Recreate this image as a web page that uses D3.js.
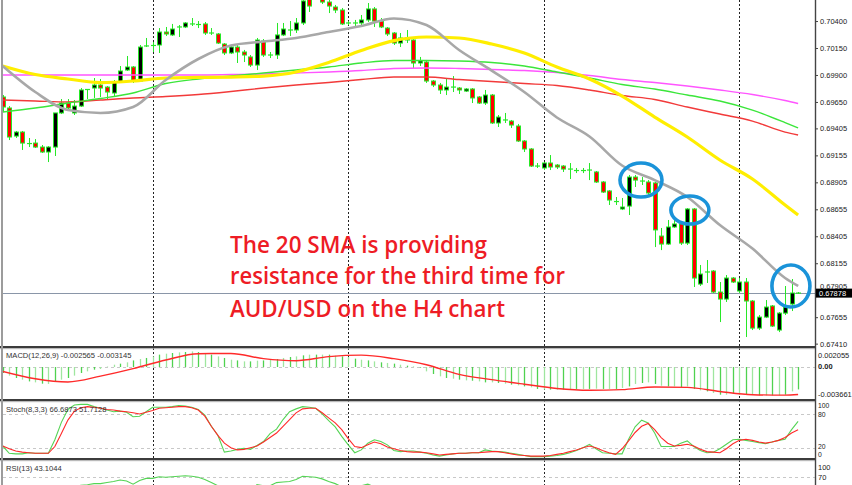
<!DOCTYPE html>
<html><head><meta charset="utf-8">
<script src="https://cdn.jsdelivr.net/npm/d3@7"></script>
<style>html,body{margin:0;padding:0;background:#fff;overflow:hidden}</style>
</head><body><svg id="c" width="852" height="485"></svg>
<script>
// ---------- DATA (AUD/USD H4) ----------
const opens=[0.69696,0.69594,0.69334,0.69371,0.69269,0.69269,0.69232,0.69186,0.69232,0.69548,
0.69640,0.69548,0.69612,0.69770,0.69779,0.69807,0.69788,0.69733,0.69835,0.69946,
0.69974,0.69844,0.70169,0.70169,0.70178,0.70298,0.70271,0.70345,0.70345,0.70373,
0.70373,0.70373,0.70289,0.70280,0.70187,0.70104,0.70159,0.70113,0.70067,0.69992,
0.70215,0.70085,0.70085,0.70271,0.70317,0.70317,0.70382,0.70614,0.70706,0.70632,
0.70576,0.70530,0.70502,0.70382,0.70382,0.70382,0.70410,0.70512,0.70400,0.70335,
0.70289,0.70196,0.70243,0.70224,0.70011,0.70020,0.69844,0.69807,0.69761,0.69788,
0.69779,0.69751,0.69770,0.69696,0.69640,0.69714,0.69455,0.69483,0.69473,0.69427,
0.69288,0.69214,0.69056,0.69038,0.69084,0.69065,0.69056,0.69028,0.69019,0.69010,
0.69019,0.69001,0.68908,0.68825,0.68732,0.68658,0.68685,0.68954,0.68917,0.68908,
0.68899,0.68407,0.68333,0.68491,0.68519,0.68342,0.68658,0.67962,0.68074,0.68083,
0.67888,0.67823,0.68018,0.67898,0.67981,0.67805,0.67554,0.67656,0.67759,0.67536,
0.67693,0.67777,0.67879];
const highs=[0.69714,0.69612,0.69381,0.69381,0.69316,0.69306,0.69251,0.69241,0.69548,0.69677,
0.69677,0.69668,0.69779,0.69770,0.69872,0.69863,0.69798,0.69853,0.69983,0.70076,
0.69983,0.70178,0.70243,0.70206,0.70335,0.70345,0.70373,0.70363,0.70391,0.70428,
0.70400,0.70391,0.70335,0.70289,0.70196,0.70169,0.70178,0.70132,0.70085,0.70243,
0.70233,0.70113,0.70382,0.70382,0.70400,0.70428,0.70623,0.70651,0.70762,0.70669,
0.70595,0.70549,0.70521,0.70400,0.70410,0.70456,0.70567,0.70530,0.70428,0.70345,
0.70298,0.70289,0.70317,0.70233,0.70067,0.70039,0.69853,0.69826,0.69872,0.69890,
0.69788,0.69779,0.69779,0.69705,0.69761,0.69724,0.69529,0.69548,0.69483,0.69446,
0.69297,0.69223,0.69084,0.69093,0.69158,0.69075,0.69065,0.69084,0.69038,0.69038,
0.69084,0.69010,0.68917,0.68834,0.68769,0.68760,0.68973,0.68973,0.68954,0.68926,
0.68908,0.68482,0.68556,0.68583,0.68537,0.68667,0.68667,0.68139,0.68185,0.68092,
0.67981,0.68046,0.68027,0.68018,0.68018,0.67814,0.67675,0.67814,0.67768,0.67703,
0.67944,0.68009,0.67888];
const lows=[0.69557,0.69297,0.69316,0.69205,0.69232,0.69223,0.69177,0.69093,0.69149,0.69538,
0.69575,0.69529,0.69603,0.69677,0.69687,0.69696,0.69668,0.69696,0.69826,0.69937,
0.69826,0.69835,0.70159,0.70113,0.70104,0.70261,0.70261,0.70252,0.70335,0.70354,
0.70335,0.70271,0.70271,0.70187,0.70085,0.70094,0.70011,0.70020,0.69974,0.69946,
0.70067,0.70057,0.70048,0.70261,0.70261,0.70289,0.70363,0.70484,0.70632,0.70558,
0.70474,0.70474,0.70363,0.70363,0.70345,0.70345,0.70391,0.70345,0.70335,0.70261,
0.70178,0.70159,0.70196,0.69965,0.69983,0.69826,0.69788,0.69724,0.69714,0.69742,
0.69724,0.69742,0.69640,0.69631,0.69622,0.69446,0.69418,0.69455,0.69409,0.69279,
0.69186,0.69047,0.69038,0.69019,0.69019,0.69028,0.69001,0.68936,0.68991,0.68991,
0.68926,0.68899,0.68806,0.68695,0.68695,0.68648,0.68602,0.68862,0.68880,0.68787,
0.68305,0.68277,0.68324,0.68482,0.68324,0.68324,0.67935,0.67944,0.67972,0.67879,
0.67610,0.67796,0.67972,0.67879,0.67471,0.67536,0.67536,0.67647,0.67564,0.67517,
0.67675,0.67712,0.67870];
const closes=[0.69603,0.69325,0.69371,0.69269,0.69260,0.69232,0.69186,0.69232,0.69548,0.69640,
0.69594,0.69612,0.69761,0.69761,0.69807,0.69779,0.69742,0.69835,0.69937,0.69974,
0.69844,0.70159,0.70169,0.70178,0.70298,0.70280,0.70326,0.70345,0.70382,0.70373,
0.70363,0.70289,0.70289,0.70196,0.70104,0.70159,0.70113,0.70085,0.69992,0.70224,
0.70085,0.70085,0.70271,0.70326,0.70317,0.70382,0.70586,0.70539,0.70651,0.70576,
0.70539,0.70502,0.70373,0.70382,0.70382,0.70410,0.70512,0.70400,0.70345,0.70280,
0.70196,0.70243,0.70224,0.70011,0.70030,0.69844,0.69807,0.69761,0.69788,0.69788,
0.69761,0.69770,0.69687,0.69640,0.69714,0.69455,0.69510,0.69483,0.69436,0.69288,
0.69214,0.69056,0.69056,0.69084,0.69047,0.69047,0.69028,0.69028,0.69010,0.69019,
0.69019,0.68908,0.68815,0.68741,0.68722,0.68676,0.68954,0.68926,0.68917,0.68806,
0.68464,0.68333,0.68491,0.68519,0.68342,0.68658,0.68018,0.68055,0.68074,0.67888,
0.67823,0.68018,0.67981,0.67981,0.67805,0.67554,0.67656,0.67749,0.67573,0.67693,
0.67749,0.67879,0.67878];

// moving averages, read at these candle indices
const maIdx=[0,5,10,15,20,25,30,35,40,45,50,55,60,65,70,75,80,85,90,95,100,105,110,115,120,122];
const sma20=[0.69983,0.69742,0.69575,0.69548,0.69603,0.69853,0.70048,0.70173,0.70210,0.70243,0.70298,0.70354,0.70424,0.70363,0.70132,0.69941,0.69742,0.69506,0.69330,0.69061,0.68926,0.68769,0.68509,0.68291,0.68018,0.67944];
const sma50=[0.69983,0.69904,0.69863,0.69830,0.69844,0.69872,0.69877,0.69881,0.69890,0.69928,0.70016,0.70127,0.70219,0.70252,0.70243,0.70187,0.70104,0.69974,0.69863,0.69705,0.69510,0.69325,0.69112,0.68936,0.68695,0.68602];
const ma100=[0.69557,0.69594,0.69640,0.69682,0.69733,0.69821,0.69863,0.69890,0.69918,0.69946,0.69974,0.70011,0.70034,0.70034,0.70030,0.70016,0.69983,0.69928,0.69872,0.69812,0.69770,0.69714,0.69659,0.69575,0.69459,0.69409];
const ma200=[0.69668,0.69659,0.69650,0.69668,0.69687,0.69700,0.69719,0.69747,0.69779,0.69807,0.69830,0.69858,0.69881,0.69881,0.69858,0.69840,0.69821,0.69802,0.69761,0.69710,0.69673,0.69603,0.69538,0.69473,0.69371,0.69344];
const maPink=[0.69900,0.69900,0.69900,0.69900,0.69900,0.69900,0.69900,0.69904,0.69909,0.69918,0.69928,0.69941,0.69960,0.69965,0.69960,0.69951,0.69941,0.69923,0.69895,0.69858,0.69830,0.69798,0.69761,0.69719,0.69663,0.69635];

const priceTicks=[0.70400,0.70150,0.69900,0.69650,0.69405,0.69155,0.68905,0.68655,0.68405,0.68155,0.67905,0.67655,0.67410];
const lastPrice=0.67878;
const separators=[23,53,83,113];

const macdHist=[-0.00069,-0.00099,-0.00126,-0.00145,-0.00165,-0.00176,-0.00191,-0.00194,-0.00171,-0.00145,
-0.00126,-0.00099,-0.00069,-0.00050,-0.00031,-0.00023,0.00003,0.00026,0.00038,0.00053,
0.00075,0.00091,0.00103,0.00121,0.00141,0.00152,0.00160,0.00167,0.00171,0.00178,
0.00171,0.00160,0.00141,0.00121,0.00103,0.00083,0.00075,0.00064,0.00064,0.00072,
0.00075,0.00083,0.00091,0.00103,0.00114,0.00121,0.00133,0.00141,0.00141,0.00141,
0.00141,0.00129,0.00121,0.00114,0.00095,0.00083,0.00075,0.00064,0.00053,0.00046,
0.00038,0.00026,0.00015,0.00007,-0.00008,-0.00050,-0.00080,-0.00107,-0.00126,-0.00134,
-0.00145,-0.00153,-0.00157,-0.00165,-0.00176,-0.00176,-0.00183,-0.00191,-0.00202,-0.00210,
-0.00222,-0.00233,-0.00251,-0.00259,-0.00259,-0.00259,-0.00259,-0.00251,-0.00251,-0.00251,
-0.00251,-0.00248,-0.00251,-0.00251,-0.00251,-0.00240,-0.00222,-0.00194,-0.00183,-0.00176,
-0.00194,-0.00214,-0.00222,-0.00222,-0.00229,-0.00222,-0.00251,-0.00267,-0.00279,-0.00297,
-0.00317,-0.00317,-0.00309,-0.00317,-0.00309,-0.00317,-0.00325,-0.00325,-0.00325,-0.00325,
-0.00317,-0.00279,-0.002565];
const macdSignal=[-0.00050,-0.00134,-0.00171,-0.00105,-0.00019,0.00080,0.00152,0.00154,0.00095,0.00072,0.00118,0.00135,0.00095,0.00026,-0.00085,-0.00145,-0.00197,-0.00246,-0.00266,-0.00259,-0.00229,-0.00233,-0.00280,-0.00317,-0.00322,-0.003145];

const stochK=[23,10,9,9,11,10,10,10,34,65,88,96,97,97,93,90,87,84,85,83,
75,76,84,92,92,92,93,95,94,92,88,78,58,42,12,14,17,19,17,24,
31,45,53,70,84,89,93,92,90,80,68,57,40,25,11,16,28,34,31,25,
15,13,14,14,12,10,7,5,7,9,10,10,11,11,16,14,13,12,10,8,
6,4,4,4,5,6,8,11,15,20,26,18,11,10,9,9,35,57,69,64,
46,22,22,22,28,32,22,15,11,12,18,26,34,35,33,31,29,27,30,33,
35,52,66.6873];
const stochD=[23,18,14,12,11,10,10,10,22,45,69,85,91,93,92,90,88,87,85,84,
82,80,83,86,90,91,92,93,93,91,87,76,58,42,28,20,16,17,20,23,
30,38,46,58,70,82,89,90,90,82,73,64,52,36,22,20,25,30,27,21,
18,15,13,12,12,11,9,7,8,9,10,10,11,11,12,13,13,11,9,7,
6,5,5,5,6,8,10,13,16,20,23,20,15,11,8,18,32,47,58,63,
52,38,28,23,24,26,23,17,13,12,11,18,27,33,35,33,30,28,30,33,
38,46,51.7128];
const rsi=[38,33,35,31,32,30,29,30,45,50,48,51,55,56,58,58,60,62,65,63,
57,64,68,68,71,70,71,72,73,72,70,66,60,54,50,51,50,48,44,56,
54,54,60,61,62,66,72,71,70,67,62,58,52,50,48,54,57,52,49,46,
43,45,43,36,37,30,28,27,29,29,28,28,26,25,29,23,26,26,25,22,
20,17,18,21,20,20,19,20,19,21,21,19,16,17,20,22,37,38,38,34,
25,23,28,30,27,40,24,27,28,25,24,32,31,33,28,24,27,31,29,32,
35,41,43.1044];

const noteLines=["The 20 SMA is providing","resistance for the third time for","AUD/USD on the H4 chart"];
// blue rings: centre as [candle index, price]
const ringCenters=[[97.9,0.68926],[105.4,0.68648],[120.9,0.67944]];

// ---------- DRAW ----------
const svg=d3.select("#c");
const AX=815;
const x=d3.scaleLinear().domain([0,122]).range([2.7,798.1]);
const y=d3.scaleLinear().domain([0.67388,0.70595]).range([346,0]);
const ym=d3.scaleLinear().domain([-0.003661,0.002055]).range([399,349]);
const ys=d3.scaleLinear().domain([0,100]).range([458.9,402.7]);
const yr=d3.scaleLinear().domain([0,100]).range([514.2,461.5]);
const font="'Liberation Sans', Arial, sans-serif";

svg.append("rect").attr("width",852).attr("height",485).attr("fill","#fff");
const defs=svg.append("defs");
function clip(id,y0,y1){defs.append("clipPath").attr("id",id).append("rect").attr("x",3).attr("y",y0).attr("width",AX-3).attr("height",y1-y0);}
clip("cMain",0,346);clip("cMacd",349,399);clip("cSto",402,458);clip("cRsi",461,485);

// period separators
separators.forEach(i=>{
  svg.append("line").attr("x1",Math.round(x(i))+0.5).attr("x2",Math.round(x(i))+0.5)
    .attr("y1",0).attr("y2",485).attr("stroke","#222").attr("stroke-dasharray","2,2").attr("stroke-width",1);
});

// main panel
const gm=svg.append("g").attr("clip-path","url(#cMain)");
gm.append("line").attr("x1",0).attr("x2",AX).attr("y1",Math.round(y(lastPrice))+0.5).attr("y2",Math.round(y(lastPrice))+0.5)
  .attr("stroke","#8a96a8").attr("stroke-width",1);

const GREEN="#27e827";
const idx=d3.range(opens.length);
gm.selectAll("line.wick").data(idx).join("line").attr("class","wick")
  .attr("x1",i=>Math.round(x(i))+0.5).attr("x2",i=>Math.round(x(i))+0.5)
  .attr("y1",i=>y(highs[i])).attr("y2",i=>y(lows[i])).attr("stroke",GREEN).attr("stroke-width",1);
idx.forEach(i=>{
  const cx=Math.round(x(i))+0.5;
  const yo=y(opens[i]),yc=y(closes[i]);
  const top=Math.min(yo,yc),h=Math.abs(yo-yc);
  if(h<1.6){
    gm.append("line").attr("x1",cx-2.5).attr("x2",cx+2.5).attr("y1",(yo+yc)/2).attr("y2",(yo+yc)/2)
      .attr("stroke",GREEN).attr("stroke-width",1.2);
  } else {
    gm.append("rect").attr("x",cx-2).attr("width",4).attr("y",top).attr("height",h)
      .attr("fill",closes[i]>opens[i]?"#000":"#ff0000").attr("stroke",GREEN).attr("stroke-width",1);
  }
});

const maLine=d3.line().x((d,k)=>x(maIdx[k])).y(d=>y(d)).curve(d3.curveMonotoneX);
[[maPink,"#ff55ff",1.4],[ma200,"#f23a3a",1.4],[ma100,"#3be63b",1.4],[sma50,"#ffee00",3.2],[sma20,"#a8a8a8",2.6]]
 .forEach(([d,c,w])=>gm.append("path").datum(d).attr("d",maLine).attr("fill","none").attr("stroke",c).attr("stroke-width",w));

// blue rings
const ringR=[[21,17],[19,14],[19,21]];
ringCenters.forEach(([ci,p],k)=>{
  gm.append("ellipse").attr("cx",x(ci)).attr("cy",y(p))
    .attr("rx",ringR[k][0]).attr("ry",ringR[k][1]).attr("fill","none").attr("stroke","#1a93d9").attr("stroke-width",3.6);
});

// annotation text
const noteY=[252.7,284.3,316.7], noteW=[257,335,275];
noteLines.forEach((t,k)=>{
  svg.append("text").attr("x",230).attr("y",noteY[k]).text(t)
    .attr("font-family","'Open Sans', sans-serif").attr("font-weight",600).attr("font-size",23)
    .attr("fill","#ee1c25").attr("textLength",noteW[k]).attr("lengthAdjust","spacingAndGlyphs");
});

// MACD panel
const gmac=svg.append("g").attr("clip-path","url(#cMacd)");
gmac.append("line").attr("x1",3).attr("x2",AX).attr("y1",Math.round(ym(0))+0.5).attr("y2",Math.round(ym(0))+0.5)
  .attr("stroke","#c8c8c8").attr("stroke-dasharray","3,3");
gmac.selectAll("line.h").data(idx).join("line").attr("class","h")
  .attr("x1",i=>Math.round(x(i))+0.5).attr("x2",i=>Math.round(x(i))+0.5)
  .attr("y1",ym(0)).attr("y2",i=>ym(macdHist[i]))
  .attr("stroke",i=>i%2?"#9fe69f":"#4fd24f").attr("stroke-width",1.3);
gmac.append("path").datum(macdSignal).attr("d",d3.line().x((d,k)=>x(maIdx[k])).y(d=>ym(d)).curve(d3.curveMonotoneX))
  .attr("fill","none").attr("stroke","#ff2a2a").attr("stroke-width",1.4);

// Stoch panel
const gst=svg.append("g").attr("clip-path","url(#cSto)");
[80,20].forEach(v=>gst.append("line").attr("x1",3).attr("x2",AX).attr("y1",Math.round(ys(v))+0.5).attr("y2",Math.round(ys(v))+0.5)
  .attr("stroke","#c8c8c8").attr("stroke-dasharray","3,3"));
const sl=d3.line().x((d,i)=>x(i)).y(d=>ys(d));
gst.append("path").datum(stochK).attr("d",sl).attr("fill","none").attr("stroke","#55d455").attr("stroke-width",1.1);
gst.append("path").datum(stochD).attr("d",sl).attr("fill","none").attr("stroke","#ff2a2a").attr("stroke-width",1.1);

// RSI panel
const grs=svg.append("g").attr("clip-path","url(#cRsi)");
grs.append("line").attr("x1",3).attr("x2",AX).attr("y1",Math.round(yr(70))+0.5).attr("y2",Math.round(yr(70))+0.5)
  .attr("stroke","#c8c8c8").attr("stroke-dasharray","3,3");
grs.append("path").datum(rsi).attr("d",d3.line().x((d,i)=>x(i)).y(d=>yr(d))).attr("fill","none").attr("stroke","#55d455").attr("stroke-width",1.1);

// panel labels
[["MACD(12,26,9) -0.002565 -0.003145",358],["Stoch(8,3,3) 66.6873 51.7128",412],["RSI(13) 43.1044",471]].forEach(([t,yy])=>
  svg.append("text").attr("x",6).attr("y",yy).text(t).attr("font-family",font).attr("font-size",7.6).attr("fill","#333"));

// separators between panels
[346,399,458].forEach(yy=>{
  svg.append("rect").attr("x",0).attr("y",yy).attr("width",AX).attr("height",2.2).attr("fill","#3c3c3c");
  svg.append("line").attr("x1",0).attr("x2",AX).attr("y1",yy+2.7).attr("y2",yy+2.7).attr("stroke","#aaa").attr("stroke-width",0.8);
});
svg.append("line").attr("x1",2).attr("x2",2).attr("y1",0).attr("y2",485).attr("stroke","#9c9c9c").attr("stroke-width",2);

// right price axis
const ax=svg.append("g").attr("transform",`translate(${AX},0)`)
  .call(d3.axisRight(y).tickValues(priceTicks).tickFormat(d3.format(".5f")).tickSize(3).tickPadding(2));
ax.select(".domain").attr("stroke","#444").attr("stroke-width",1.4).attr("d","M0.5,0V485");
ax.selectAll(".tick line").attr("stroke","#444");
ax.selectAll(".tick text").attr("font-family",font).attr("font-size",7.5).attr("fill","#222");
// the 0.67905 label sits just above the last-price box
ax.selectAll(".tick").filter(d=>Math.abs(d-0.67905)<1e-6).select("text").attr("y",-4.6);

// last price label
svg.append("rect").attr("x",816).attr("y",y(lastPrice)-4.5).attr("width",36).attr("height",9).attr("fill","#000");
svg.append("text").attr("x",819).attr("y",y(lastPrice)+2.7).text(d3.format(".5f")(lastPrice))
  .attr("font-family",font).attr("font-size",7.5).attr("fill","#fff");

// indicator scale labels
function lab(t,yy,w,fs){svg.append("text").attr("x",818).attr("y",yy+2.5).text(t).attr("font-family",font).attr("font-size",fs||7.5).attr("fill","#222").attr("font-weight",w||400);}
lab("0.002055",ym(0.002055)+6);lab("0.00",ym(0),700);lab("-0.003661",ym(-0.003661)-5);
lab("100",ys(100)+3,400,6.8);lab("80",ys(80)+0.8,400,6.8);lab("20",ys(20)-1,400,6.8);lab("0",ys(0)-4,400,6.8);
lab("100",yr(100)+6);lab("70",yr(70));
</script></body></html>
